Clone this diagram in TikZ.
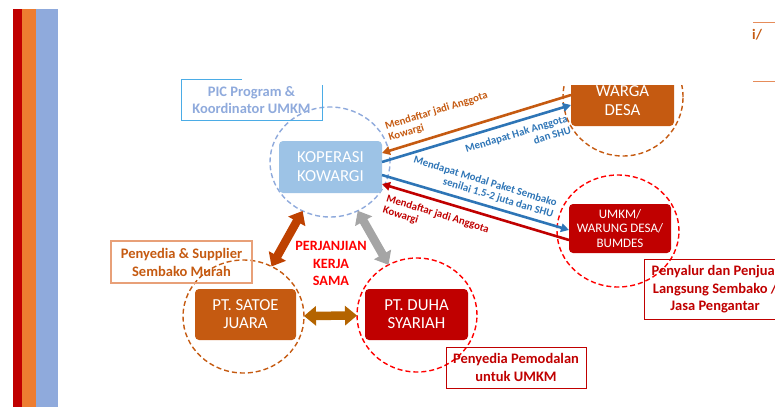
\documentclass[tikz,border=0pt]{standalone}
\usepackage{fontspec}
\setmainfont{Carlito}
\usetikzlibrary{arrows.meta,shapes.geometric,calc}
\definecolor{barred}{RGB}{192,0,0}
\definecolor{barorg}{RGB}{237,125,49}
\definecolor{barblue}{RGB}{143,170,220}
\definecolor{orgc}{RGB}{197,90,17}
\definecolor{kopfill}{RGB}{157,195,230}
\definecolor{blutxt}{RGB}{46,117,182}
\definecolor{dred}{RGB}{192,0,0}
\definecolor{bred}{RGB}{255,0,0}
\definecolor{piccol}{RGB}{75,172,230}
\definecolor{supbord}{RGB}{232,160,120}
\definecolor{blkred}{RGB}{190,65,0}
\definecolor{blkgray}{RGB}{165,165,165}
\definecolor{blkbrown}{RGB}{180,100,0}
\definecolor{linorg}{RGB}{230,140,90}
\begin{document}
\begin{tikzpicture}[x=1pt,y=-1pt,
  ring/.style={ellipse, draw, dash pattern=on 5pt off 3pt, line width=1.4pt, inner sep=0pt, outer sep=0pt},
  rbox/.style={rounded corners=4pt, inner sep=0pt, outer sep=0pt, text=white, align=center, font=\fontsize{16.8}{19}\selectfont},
  lbl/.style={font=\bfseries\fontsize{10.8}{12}\selectfont, inner sep=0pt},
  note/.style={font=\bfseries\fontsize{14.5}{17.5}\selectfont, align=center, inner sep=0pt},
  conn/.style={line width=2.6pt, -{Triangle[length=8pt,width=8.5pt]}},
  blk/.style={line width=8.5pt, {Triangle[length=12pt,width=19pt]}-{Triangle[length=12pt,width=19pt]}}
]
\useasboundingbox (0,0) rectangle (775,407);
\clip (0,0) rectangle (775,407);
% left bars
\fill[barred] (13,9) rectangle (22,407);
\fill[barorg] (22,9) rectangle (36,407);
\fill[barblue] (36,9) rectangle (58,407);

% rings
\node[ring, draw=barblue, minimum width=120pt, minimum height=110pt] (kopc) at (330,162) {};
\node[ring, draw=orgc, minimum width=120pt, minimum height=118pt] (warc) at (623,97) {};
\node[ring, draw=bred, minimum width=122pt, minimum height=112pt] (umkc) at (618,231) {};
\node[ring, draw=orgc, minimum width=121pt, minimum height=113pt] (satc) at (243.5,316.5) {};
\node[ring, draw=bred, minimum width=120pt, minimum height=114pt] (duhc) at (417,315) {};

% boxes
\node[rbox, fill=kopfill, minimum width=103pt, minimum height=52pt] (kop) at (330.5,167) {KOPERASI\\KOWARGI};
\node[rbox, fill=orgc, minimum width=103pt, minimum height=50pt] (war) at (622.5,101) {WARGA\\DESA};
\node[rbox, fill=dred, minimum width=102pt, minimum height=49pt, font=\fontsize{13}{14.5}\selectfont] (umk) at (620,228.5) {UMKM/\\WARUNG DESA/\\BUMDES};
\node[rbox, fill=orgc, minimum width=101pt, minimum height=51pt, font=\fontsize{16.8}{18}\selectfont] (sat) at (245.5,314.5) {PT. SATOE\\JUARA};
\node[rbox, fill=dred, minimum width=103pt, minimum height=51pt, font=\fontsize{16.8}{18}\selectfont] (duh) at (416.5,314.5) {PT. DUHA\\SYARIAH};

% white overlay cutting the top of WARGA DESA
\fill[white] (545,0) rectangle (705,85);

% top right fragment
\draw[linorg, line width=1pt] (753,22) -- (776,22);
\draw[linorg, line width=1pt] (753,81) -- (776,81);
\node[note, text=orgc, anchor=west] (frag) at (752,35) {i/};

% PIC box
\draw[piccol, line width=1pt] (242,79) -- (181,79) -- (181,120) -- (322,120) -- (322,85);
\node[note, text=barblue, font=\bfseries\fontsize{14.5}{17}\selectfont] (pic) at (251.5,100.5) {PIC Program \&\\Koordinator UMKM};

% supplier box
\node[note, text=orgc, draw=supbord, line width=1.2pt, minimum width=141pt, minimum height=42pt, font=\bfseries\fontsize{14.5}{18}\selectfont] (sup) at (181.5,262) {Penyedia \& Supplier\\Sembako Murah};
% penyalur box
\node[note, text=dred, draw=dred, line width=0.8pt, minimum width=142pt, minimum height=60pt] (pen) at (715,289.5) {Penyalur dan Penjual\\Langsung Sembako /\\Jasa Pengantar};
% pemodalan box
\node[note, text=dred, draw=dred, line width=0.8pt, minimum width=140pt, minimum height=41pt, font=\bfseries\fontsize{14.5}{18}\selectfont] (mod) at (516,367.5) {Penyedia Pemodalan\\untuk UMKM};

% perjanjian
\node[note, text=bred, font=\bfseries\fontsize{14.2}{17.5}\selectfont] (pks) at (331,263.5) {PERJANJIAN\\KERJA\\SAMA};

% block arrows
\draw[blk, color=blkred] (kopc) -- (satc);
\draw[blk, color=blkgray] (kopc) -- (duhc);
\draw[blk, color=blkbrown] (satc) -- (duhc);

% thin arrows
\draw[conn, color=orgc] ([yshift=6pt]war.west) -- ([yshift=14pt]kop.east);
\draw[conn, color=blutxt] ([yshift=5pt]kop.east) -- ([yshift=-4pt]war.west);
\draw[conn, color=blutxt] ([yshift=-8pt]kop.east) -- ([yshift=-1.5pt]umk.west);
\draw[conn, color=dred] ([yshift=-11.5pt]umk.west) -- ([yshift=-17pt]kop.east);

% labels
\node[lbl, text=orgc, rotate=17, anchor=north west, align=left] (la) at (384,122) {Mendaftar jadi Anggota\\Kowargi};
\node[lbl, text=blutxt, rotate=17, anchor=north east, align=right] (lb) at (566,114) {Mendapat Hak Anggota\\dan SHU};
\node[lbl, text=blutxt, rotate=-17, anchor=north east, align=right] (lc) at (558,199) {Mendapat Modal Paket Sembako\\senilai 1.5-2 juta dan SHU};
\node[lbl, text=dred, rotate=-17, anchor=north west, align=left] (ld) at (388,194) {Mendaftar jadi Anggota\\Kowargi};
\end{tikzpicture}
\end{document}
